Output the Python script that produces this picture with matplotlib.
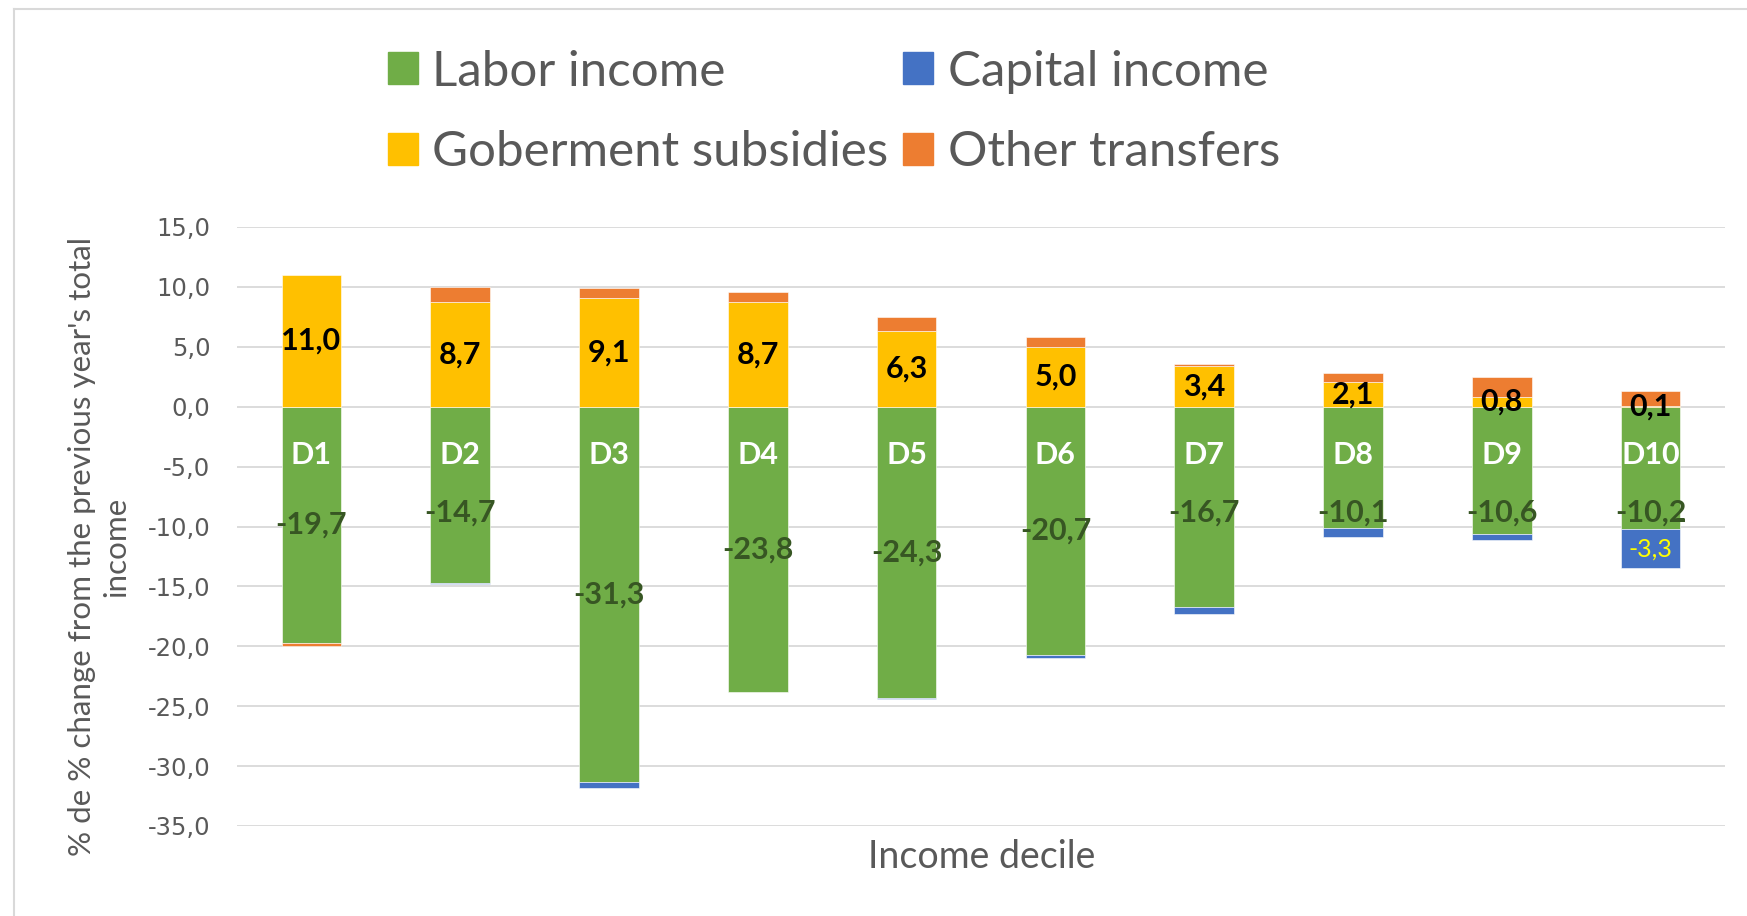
import numpy as np
import matplotlib
matplotlib.use('Agg')
from matplotlib import pyplot as plt
from matplotlib.patches import Patch
from matplotlib.lines import Line2D

deciles = ['D1', 'D2', 'D3', 'D4', 'D5', 'D6', 'D7', 'D8', 'D9', 'D10']
labor = [-19.7, -14.7, -31.3, -23.8, -24.3, -20.7, -16.7, -10.1, -10.6, -10.2]
capital = [0.0, -0.1, -0.5, 0.0, -0.1, -0.3, -0.6, -0.8, -0.5, -3.3]
subsidies = [11.0, 8.7, 9.1, 8.7, 6.3, 5.0, 3.4, 2.1, 0.8, 0.1]
other = [-0.3, 1.3, 0.8, 0.9, 1.2, 0.8, 0.2, 0.7, 1.7, 1.2]
y_ticks = [15, 10, 5, 0, -5, -10, -15, -20, -25, -30, -35]

GREEN = '#70AD47'
BLUE = '#4472C4'
YELLOW = '#FFC000'
ORANGE = '#ED7D31'
GREY = '#595959'
FONT = ['Lato', 'DejaVu Sans']

fig = plt.figure(figsize=(17.47, 9.16), dpi=100)
ax = fig.add_axes([237 / 1747, 90 / 916, 1488 / 1747, 599 / 916])

x = np.arange(len(deciles))
pos_base = np.zeros(len(deciles))
neg_base = np.zeros(len(deciles))
series = [(labor, GREEN), (capital, BLUE), (subsidies, YELLOW), (other, ORANGE)]
for vals, color in series:
    vals = np.array(vals)
    bottom = np.where(vals >= 0, pos_base, neg_base)
    ax.bar(x, vals, 0.4, bottom=bottom, color=color,
           edgecolor='white', linewidth=0.4, zorder=2)
    pos_base = pos_base + np.clip(vals, 0, None)
    neg_base = neg_base + np.clip(vals, None, 0)

ax.set_xlim(-0.5, len(deciles) - 0.5)
ax.set_ylim(-35, 15)
ax.set_yticks(y_ticks)
ax.set_yticklabels([f'{t:.1f}'.replace('.', ',') for t in y_ticks],
                   fontsize=17.5, color=GREY, family='DejaVu Sans')
ax.tick_params(axis='y', length=0, pad=19)
ax.set_xticks([])
ax.grid(axis='y', color='#D9D9D9', linewidth=1.3, zorder=0)
for s in ax.spines.values():
    s.set_visible(False)


def fmt(v):
    return f'{v:.1f}'.replace('.', ',')


# data labels
for i in x:
    ax.text(i, subsidies[i] / 2, fmt(subsidies[i]), ha='center', va='center',
            fontsize=22, fontweight='bold', color='black', family=FONT, zorder=4)
    # short bars: label pushed below the decile name, like the original
    ax.text(i, min(labor[i] / 2, -8.8), fmt(labor[i]), ha='center', va='center',
            fontsize=22, fontweight='bold', color='#375623', family=FONT, zorder=4)
    ax.annotate(deciles[i], (i, 0), xytext=(0, -35), textcoords='offset points',
                ha='center', va='center', fontsize=22, fontweight='bold',
                color='white', family=FONT, zorder=4)
ax.text(9, labor[9] + capital[9] / 2, fmt(capital[9]), ha='center', va='center',
        fontsize=18, color='#FFFF00', family=FONT, zorder=4)

fig.text(982 / 1747, 1 - 857 / 916, 'Income decile', ha='center', va='center',
         fontsize=27, color=GREY, family=FONT)
fig.text(99 / 1747, 1 - 547 / 916,
         "% de % change from the previous year's total\nincome",
         ha='center', va='center', rotation=90, fontsize=22.6, color=GREY,
         family=FONT, linespacing=1.25)

handles = [Patch(color=GREEN), Patch(color=YELLOW), Patch(color=BLUE), Patch(color=ORANGE)]
labels = ['Labor income', 'Goberment subsidies', 'Capital income', 'Other transfers']
fig.legend(handles, labels, ncol=2, loc='center', bbox_to_anchor=(834 / 1747, 1 - 112 / 916),
           frameon=False, prop={'family': FONT, 'size': 35.5}, labelcolor=GREY,
           handlelength=0.6, handleheight=0.6, handletextpad=0.3,
           columnspacing=0.3, labelspacing=0.75, borderpad=0)

# chart border (only top and left visible)
fig.add_artist(Line2D([14 / 1747, 14 / 1747], [0, 1 - 9 / 916], color='#D9D9D9', lw=1.5))
fig.add_artist(Line2D([14 / 1747, 1], [1 - 9 / 916, 1 - 9 / 916], color='#D9D9D9', lw=1.5))

plt.savefig('out.png', dpi=100)
plt.close(fig)
